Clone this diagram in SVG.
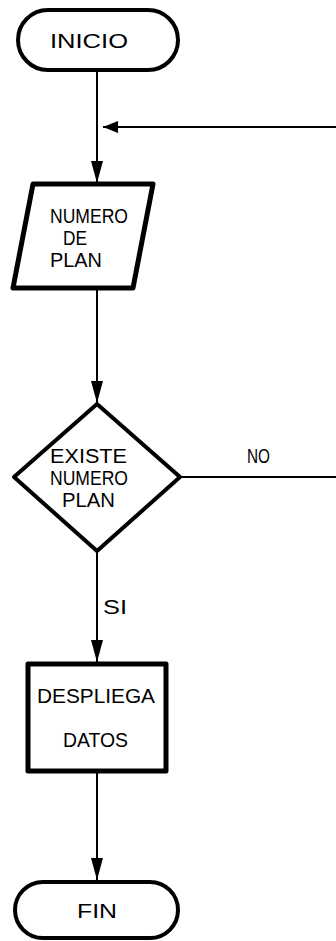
<svg xmlns="http://www.w3.org/2000/svg" width="336" height="941" viewBox="0 0 336 941">
<style>
.shape{fill:#fff;stroke:#000;stroke-linejoin:round}
.conn{fill:none;stroke:#000;stroke-width:2}
text{font-family:"Liberation Sans",Arial,sans-serif;font-size:20px;fill:#000}
</style>
<defs>
<marker id="ah" viewBox="0 0 22 12" refX="22" refY="6" markerWidth="22" markerHeight="12" orient="auto" markerUnits="userSpaceOnUse"><path d="M0,0 L22,6 L0,12 z" fill="#000"/></marker>
<marker id="ahs" viewBox="0 0 15 12" refX="15" refY="6" markerWidth="15" markerHeight="12" orient="auto" markerUnits="userSpaceOnUse"><path d="M0,0 L15,6 L0,12 z" fill="#000"/></marker>
</defs>
<rect width="336" height="941" fill="#fff"/>
<g id="connectors">
<path class="conn" d="M97,72 V183" marker-end="url(#ah)"/>
<path class="conn" d="M336,127 H103" marker-end="url(#ahs)"/>
<path class="conn" d="M97,288 V403" marker-end="url(#ah)"/>
<path class="conn" d="M180,477 H336"/>
<path class="conn" d="M97,552 V662" marker-end="url(#ah)"/>
<path class="conn" d="M97,772 V880" marker-end="url(#ah)"/>
<text x="247" y="463" textLength="23" lengthAdjust="spacingAndGlyphs">NO</text>
<text x="103" y="614" textLength="24" lengthAdjust="spacingAndGlyphs">SI</text>
</g>
<g id="inicio">
<rect class="shape" x="18" y="10" width="160" height="60" rx="30" stroke-width="4"/>
<text x="50" y="48" textLength="78" lengthAdjust="spacingAndGlyphs">INICIO</text>
</g>
<g id="numero-plan">
<path class="shape" d="M33,184 L153,184 L133,288 L13,288 z" stroke-width="5" stroke-linejoin="miter"/>
<text x="50" y="223" textLength="78" lengthAdjust="spacingAndGlyphs">NUMERO</text>
<text x="63" y="245" textLength="24" lengthAdjust="spacingAndGlyphs">DE</text>
<text x="50" y="267" textLength="52" lengthAdjust="spacingAndGlyphs">PLAN</text>
</g>
<g id="existe">
<path class="shape" d="M97,404 L180,477 L97,551 L14,477 z" stroke-width="4"/>
<text x="50" y="463" textLength="77" lengthAdjust="spacingAndGlyphs">EXISTE</text>
<text x="50" y="485" textLength="78" lengthAdjust="spacingAndGlyphs">NUMERO</text>
<text x="62" y="507" textLength="53" lengthAdjust="spacingAndGlyphs">PLAN</text>
</g>
<g id="despliega">
<rect class="shape" x="28" y="664" width="138" height="107" stroke-width="5" stroke-linejoin="miter"/>
<text x="37" y="703" textLength="118" lengthAdjust="spacingAndGlyphs">DESPLIEGA</text>
<text x="63" y="747" textLength="65" lengthAdjust="spacingAndGlyphs">DATOS</text>
</g>
<g id="fin">
<rect class="shape" x="15" y="882" width="163" height="56" rx="28" stroke-width="4"/>
<text x="77" y="918" textLength="40" lengthAdjust="spacingAndGlyphs">FIN</text>
</g>
</svg>
